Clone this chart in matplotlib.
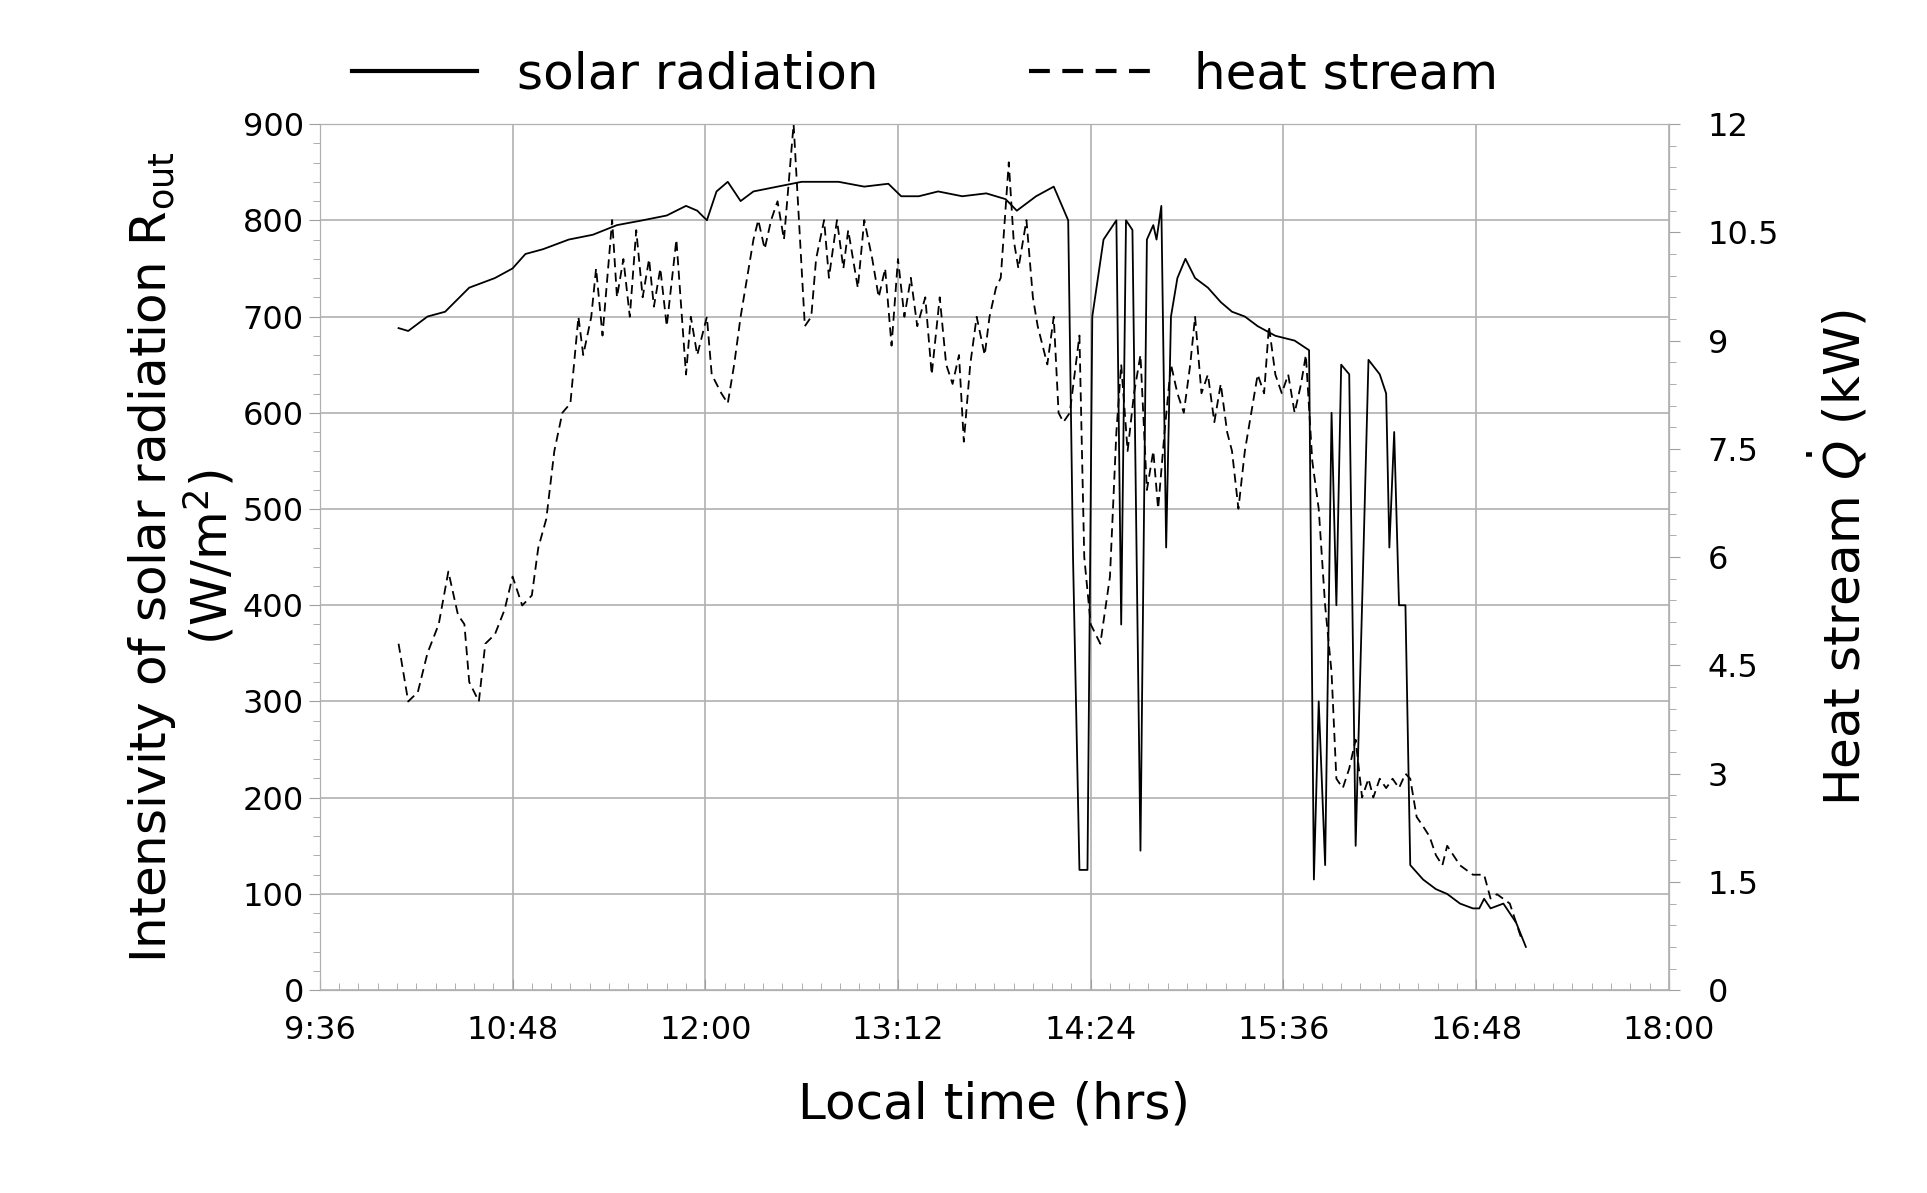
import numpy as np
import matplotlib.pyplot as plt
from matplotlib.ticker import MultipleLocator, FuncFormatter

# solar radiation (W/m2) vs local time (decimal hours)
solar_time = [10.09, 10.15, 10.27, 10.38, 10.53, 10.69, 10.80, 10.88, 10.99, 11.15, 11.30, 11.45,
              11.61, 11.76, 11.88, 11.95, 12.01, 12.07, 12.14, 12.22, 12.30, 12.45, 12.60, 12.83,
              12.99, 13.14, 13.22, 13.33, 13.45, 13.60, 13.75, 13.87, 13.94, 14.06, 14.17, 14.26,
              14.29, 14.33, 14.38, 14.41, 14.48, 14.56, 14.59, 14.62, 14.66, 14.69, 14.71, 14.75,
              14.79, 14.81, 14.84, 14.87, 14.90, 14.94, 14.99, 15.05, 15.13, 15.21, 15.28, 15.36,
              15.44, 15.55, 15.67, 15.76, 15.79, 15.82, 15.86, 15.90, 15.93, 15.96, 16.01, 16.05,
              16.09, 16.13, 16.20, 16.24, 16.26, 16.29, 16.32, 16.36, 16.39, 16.47, 16.55, 16.62,
              16.70, 16.78, 16.82, 16.85, 16.89, 16.97, 17.05, 17.11]
solar_val = [688, 685, 700, 705, 730, 740, 750, 765, 770, 780, 785, 795,
             800, 805, 815, 810, 800, 830, 840, 820, 830, 835, 840, 840,
             835, 838, 825, 825, 830, 825, 828, 822, 810, 825, 835, 800,
             450, 125, 125, 700, 780, 800, 380, 800, 790, 400, 145, 780,
             795, 780, 815, 460, 700, 740, 760, 740, 730, 715, 705, 700,
             690, 680, 675, 665, 115, 300, 130, 600, 400, 650, 640, 150,
             400, 655, 640, 620, 460, 580, 400, 400, 130, 115, 105, 100,
             90, 85, 85, 95, 85, 90, 70, 45]

# heat stream (kW) vs local time
heat_time = [10.09, 10.15, 10.21, 10.27, 10.34, 10.40, 10.46, 10.50, 10.53, 10.59, 10.63, 10.69,
             10.75, 10.80, 10.86, 10.92, 10.96, 11.01, 11.06, 11.11, 11.16, 11.21, 11.24, 11.29,
             11.32, 11.36, 11.42, 11.45, 11.49, 11.53, 11.57, 11.61, 11.65, 11.68, 11.72, 11.76,
             11.82, 11.88, 11.91, 11.95, 12.01, 12.04, 12.10, 12.14, 12.18, 12.22, 12.30, 12.33,
             12.37, 12.41, 12.45, 12.49, 12.53, 12.55, 12.59, 12.62, 12.66, 12.69, 12.74, 12.77,
             12.82, 12.86, 12.89, 12.95, 12.99, 13.04, 13.08, 13.12, 13.16, 13.20, 13.24, 13.28,
             13.32, 13.37, 13.41, 13.46, 13.50, 13.54, 13.58, 13.61, 13.65, 13.69, 13.74, 13.77,
             13.81, 13.84, 13.89, 13.92, 13.95, 14.00, 14.04, 14.07, 14.13, 14.17, 14.20, 14.23,
             14.27, 14.33, 14.36, 14.40, 14.46, 14.52, 14.56, 14.59, 14.63, 14.67, 14.71, 14.75,
             14.79, 14.82, 14.86, 14.90, 14.94, 14.98, 15.02, 15.05, 15.09, 15.13, 15.17, 15.21,
             15.25, 15.28, 15.32, 15.36, 15.40, 15.44, 15.48, 15.51, 15.55, 15.59, 15.63, 15.67,
             15.71, 15.74, 15.78, 15.82, 15.86, 15.90, 15.93, 15.97, 16.01, 16.05, 16.09, 16.13,
             16.16, 16.20, 16.24, 16.28, 16.32, 16.36, 16.39, 16.43, 16.47, 16.51, 16.55, 16.59,
             16.62, 16.70, 16.78, 16.85, 16.89, 16.93, 17.01, 17.08]
heat_val = [4.80, 4.00, 4.13, 4.67, 5.07, 5.80, 5.20, 5.07, 4.27, 4.00, 4.80, 4.93,
            5.27, 5.73, 5.33, 5.47, 6.13, 6.53, 7.47, 8.00, 8.13, 9.33, 8.80, 9.33,
            10.00, 9.07, 10.67, 9.60, 10.13, 9.33, 10.53, 9.60, 10.13, 9.47, 10.00, 9.20,
            10.40, 8.53, 9.33, 8.80, 9.33, 8.53, 8.27, 8.13, 8.67, 9.33, 10.40, 10.67,
            10.27, 10.67, 10.93, 10.40, 11.47, 12.00, 10.40, 9.20, 9.33, 10.13, 10.67, 9.87,
            10.67, 10.00, 10.53, 9.73, 10.67, 10.13, 9.60, 10.00, 8.93, 10.13, 9.33, 9.87,
            9.20, 9.60, 8.53, 9.60, 8.67, 8.40, 8.80, 7.60, 8.67, 9.33, 8.80, 9.33,
            9.73, 9.87, 11.47, 10.40, 10.00, 10.67, 9.60, 9.20, 8.67, 9.33, 8.00, 7.87,
            8.00, 9.07, 6.00, 5.07, 4.80, 5.73, 7.73, 8.67, 7.47, 8.27, 8.80, 6.93,
            7.47, 6.67, 7.73, 8.67, 8.27, 8.00, 8.67, 9.33, 8.27, 8.53, 7.87, 8.40,
            7.73, 7.47, 6.67, 7.47, 8.00, 8.53, 8.27, 9.20, 8.53, 8.27, 8.53, 8.00,
            8.40, 8.80, 7.33, 6.67, 5.33, 4.40, 2.93, 2.80, 3.07, 3.47, 2.67, 2.93,
            2.67, 2.93, 2.80, 2.93, 2.80, 3.00, 2.93, 2.40, 2.27, 2.13, 1.87, 1.73,
            2.00, 1.73, 1.60, 1.60, 1.27, 1.33, 1.20, 0.73]


def hhmm(x, pos):
    m = int(round(x * 60))
    return f"{m // 60}:{m % 60:02d}"


fig = plt.figure(figsize=(19.27, 11.93), dpi=100)
ax1 = fig.add_axes([0.166, 0.17, 0.700, 0.726])
ax1.plot(solar_time, solar_val, color='black', lw=1.3, label='solar radiation')
ax1.set_xlim(9.6, 18.0)
ax1.set_ylim(0, 900)
ax1.xaxis.set_major_locator(MultipleLocator(1.2))
ax1.xaxis.set_minor_locator(MultipleLocator(0.12))
ax1.xaxis.set_major_formatter(FuncFormatter(hhmm))
ax1.yaxis.set_major_locator(MultipleLocator(100))
ax1.yaxis.set_minor_locator(MultipleLocator(20))
ax1.grid(True, which='major', color='#b0b0b0', lw=1.2)
for s in ax1.spines.values():
    s.set_color('#b0b0b0')
ax1.tick_params(which='both', colors='#a0a0a0', labelcolor='black', labelsize=23)
ax1.tick_params(axis='x', which='both', direction='in', pad=18)
ax1.tick_params(which='major', length=8)
ax1.tick_params(which='minor', length=5)
ax1.set_xlabel('Local time (hrs)', fontsize=36, labelpad=25)
ax1.set_ylabel('Intensivity of solar radiation R$_{\\rm out}$\n(W/m$^2$)', fontsize=36,
               linespacing=1.1)

ax2 = ax1.twinx()
ax2.plot(heat_time, heat_val, color='black', lw=1.3, ls=(0, (5, 3)), label='heat stream')
ax2.set_ylim(0, 12)
ax2.yaxis.set_major_locator(MultipleLocator(1.5))
ax2.yaxis.set_minor_locator(MultipleLocator(0.3))
ax2.yaxis.set_major_formatter(FuncFormatter(lambda v, p: f"{v:g}"))
for s in ax2.spines.values():
    s.set_color('#b0b0b0')
ax2.tick_params(which='both', colors='#a0a0a0', labelcolor='black', labelsize=23, pad=20)
ax2.tick_params(which='major', length=8)
ax2.tick_params(which='minor', length=5)
ax2.set_ylabel('Heat stream $\\dot{Q}$ (kW)', fontsize=36, labelpad=20)

h1, l1 = ax1.get_legend_handles_labels()
h2, l2 = ax2.get_legend_handles_labels()
leg = fig.legend(h1 + h2, l1 + l2, loc='lower center', bbox_to_anchor=(0.48, 0.88), ncol=2,
                 frameon=False, fontsize=36, handlelength=2.5, columnspacing=3)
for line in leg.get_lines():
    line.set_linewidth(3)

fig.savefig('out.png', dpi=100, facecolor='white')
